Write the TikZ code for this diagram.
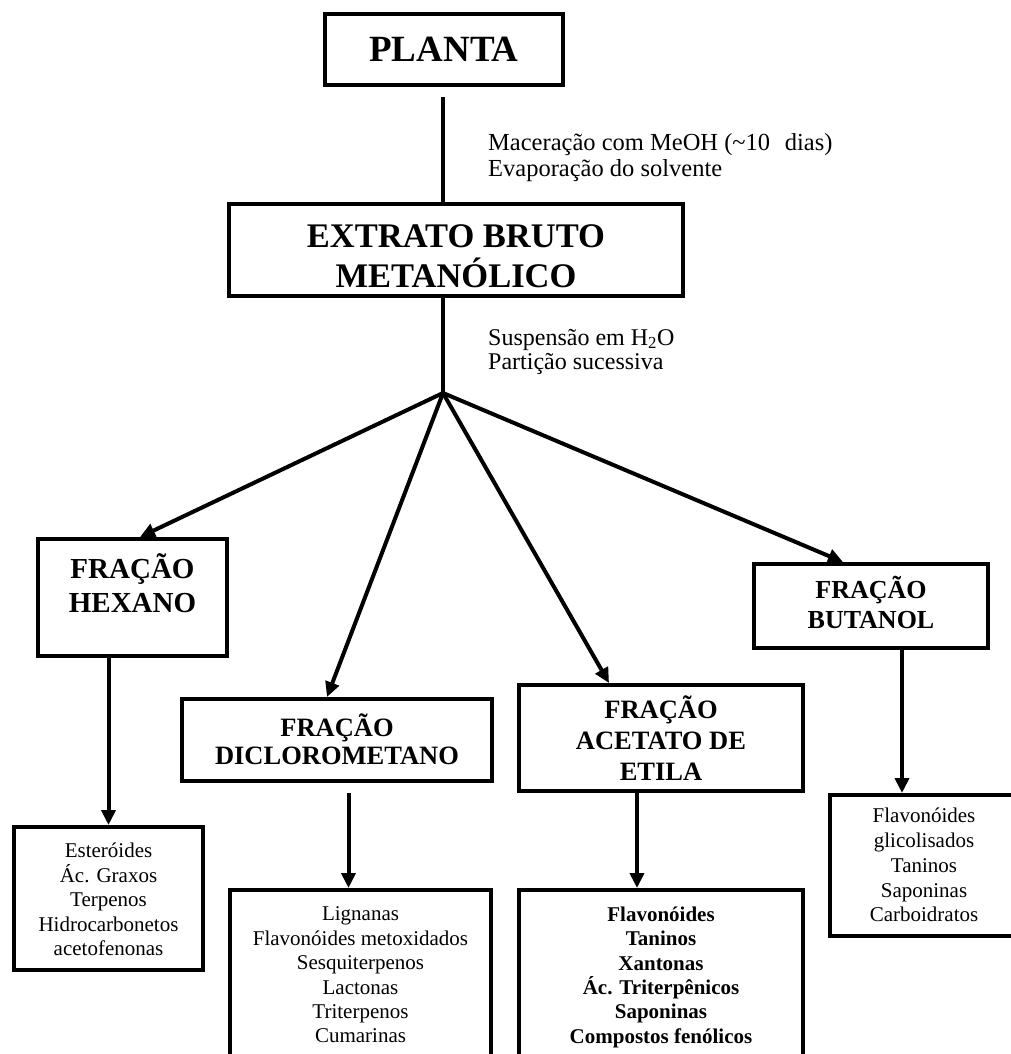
\documentclass[tikz,border=0pt]{standalone}
\usepackage{fontspec}
\setmainfont{Liberation Serif}
\usetikzlibrary{arrows.meta,calc}
\newcommand\fs[2]{\fontsize{#1}{#2}\selectfont\lineskiplimit=-50pt\lineskip=0pt}
\begin{document}
\begin{tikzpicture}[x=1pt,y=-1pt,
  box/.style={draw, line width=4pt, inner sep=0pt},
  ln/.style={line width=4pt},
  arr/.style={line width=4pt, -{Triangle[length=15pt,width=14pt]}},
  txt/.style={inner sep=0pt, align=center}]
\useasboundingbox (0,0) rectangle (1011,1054);
\clip (0,0) rectangle (1011,1054);

% top
\node[box, minimum width=238pt, minimum height=71pt, font=\bfseries\fs{37}{40}] (planta) at (444,49.5) {PLANTA};
\node[box, minimum width=454pt, minimum height=92pt] (extrato) at (456,250) {};
\node[txt, font=\bfseries\fs{34.5}{40}] (extratoT) at (456,259) {\strut EXTRATO BRUTO\\\strut METANÓLICO};

\node[txt, anchor=west, align=left, font=\fs{24.5}{26}] (ann1) at (488,157.8)
  {\strut Maceração com MeOH (\textasciitilde10\hspace{0.6em}dias)\\\strut Evaporação do solvente};
\node[txt, anchor=west, align=left, font=\fs{24}{24}] (ann2) at (488,352.2)
  {\strut Suspensão em H\textsubscript{2}O\\\strut Partição sucessiva};

% fractions
\node[box, minimum width=189pt, minimum height=117pt] (hexano) at (132.5,597.5) {};
\node[txt, font=\bfseries\fs{29}{34}] (hexanoT) at (132.5,588.2) {\strut FRAÇÃO\\\strut HEXANO};

\node[box, minimum width=310pt, minimum height=82pt] (dicloro) at (337,740) {};
\node[txt, font=\bfseries\fs{26.5}{28}] (dicloroT) at (337,743.4) {\strut FRAÇÃO\\\strut DICLOROMETANO};

\node[box, minimum width=284pt, minimum height=106pt] (acetato) at (661,738) {};
\node[txt, font=\bfseries\fs{26.5}{31}] (acetatoT) at (661,742.8) {\strut FRAÇÃO\\\strut ACETATO DE\\\strut ETILA};

\node[box, minimum width=234pt, minimum height=84pt] (butanol) at (871,606) {};
\node[txt, font=\bfseries\fs{26}{30}] (butanolT) at (871,607) {\strut FRAÇÃO\\\strut BUTANOL};

% contents
\node[box, minimum width=189pt, minimum height=143pt] (hexc) at (108.5,898.5) {};
\node[txt, font=\fs{21}{24.4}] (hexcT) at (108.5,901.9)
  {\strut Esteróides\\\strut Ác. Graxos\\\strut Terpenos\\\strut Hidrocarbonetos\\\strut acetofenonas};

\node[box, minimum width=261pt, minimum height=178pt] (dicc) at (360.5,979) {};
\node[txt, font=\fs{21}{24.4}] (diccT) at (360.5,977)
  {\strut Lignanas\\\strut Flavonóides metoxidados\\\strut Sesquiterpenos\\\strut Lactonas\\\strut Triterpenos\\\strut Cumarinas};

\node[box, minimum width=284pt, minimum height=178pt] (acec) at (661,979) {};
\node[txt, font=\bfseries\fs{21}{24.4}] (acecT) at (661,977.5)
  {\strut Flavonóides\\\strut Taninos\\\strut Xantonas\\\strut Ác. Triterpênicos\\\strut Saponinas\\\strut Compostos fenólicos};

\node[box, minimum width=200pt, minimum height=141pt] (butc) at (930,865.5) {};
\node[txt, font=\fs{21}{24.75}] (butcT) at (924,867.5)
  {\strut Flavonóides\\\strut glicolisados\\\strut Taninos\\\strut Saponinas\\\strut Carboidratos};

% connectors
\coordinate (p1) at ([xshift=-1pt,yshift=-10pt]planta.south);
\draw[ln] (p1) -- (p1 |- extrato.north);
\coordinate (J) at ([xshift=-13pt,yshift=-95pt]extrato.south);
\draw[ln] (extrato.south -| J) -- (J);

\draw[arr] (J) -- ([xshift=7.5pt]hexano.north);
\draw[arr] (J) -- ([xshift=-10pt]dicloro.north);
\draw[arr] (J) -- ([xshift=-52pt]acetato.north);
\draw[arr] (J) -- ([xshift=-28pt]butanol.north);

\draw[arr] (hexc.north |- hexano.south) -- (hexc.north);
\coordinate (d1) at ([yshift=-10pt]dicloro.south);
\coordinate (d2) at ([xshift=-12pt]dicc.north);
\draw[arr] (d2 |- d1) -- (d2);
\draw[arr] ([xshift=-24pt]acetato.south) -- ([xshift=-24pt]acec.north);
\coordinate (b2) at ([xshift=-28pt]butc.north);
\draw[arr] (b2 |- butanol.south) -- (b2);
\end{tikzpicture}
\end{document}
